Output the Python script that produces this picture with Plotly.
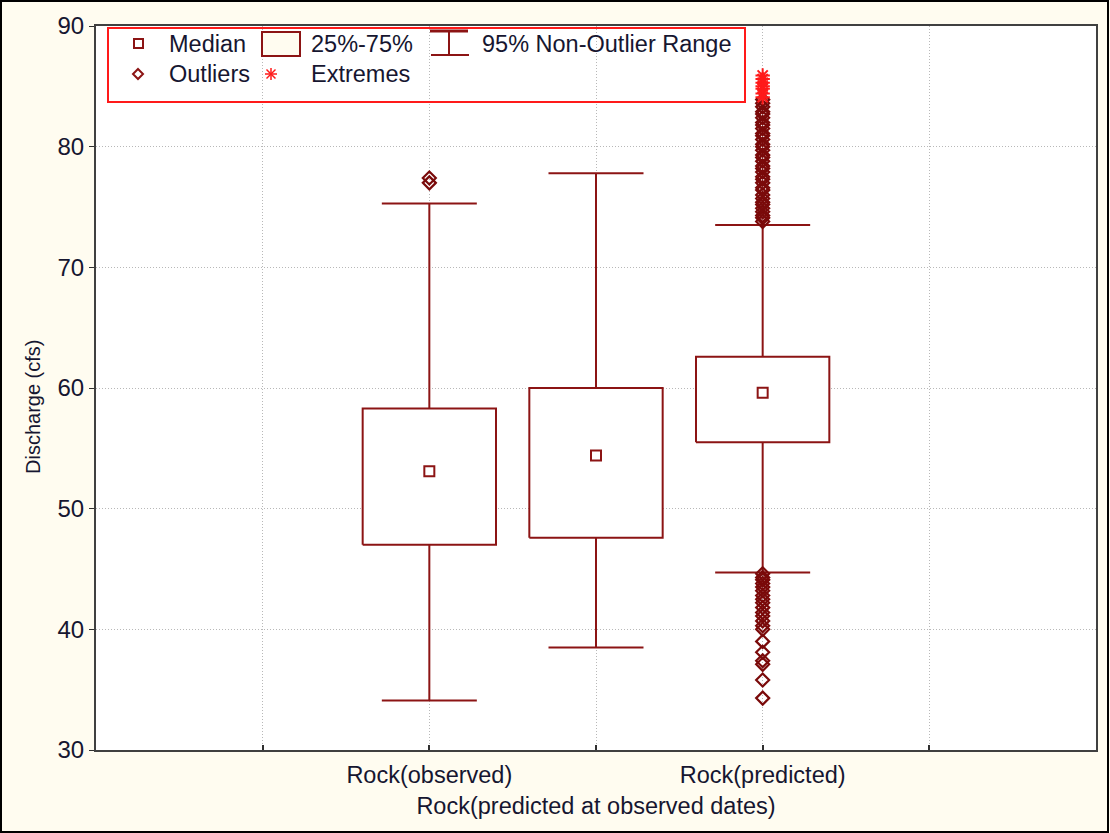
import plotly.graph_objects as go

# ---- data -------------------------------------------------------------
positions = [2, 3, 4]
series_names = ["Rock(observed)", "Rock(predicted at observed dates)", "Rock(predicted)"]
medians = [53.1, 54.4, 59.6]
q1 = [47.0, 47.6, 55.5]
q3 = [58.3, 60.0, 62.6]
whisker_low = [34.1, 38.5, 44.7]
whisker_high = [75.3, 77.8, 73.5]

outliers_observed = [77.0, 77.4]
outliers_predicted = [
    73.8, 74.1, 74.3, 74.6, 74.9, 75.2, 75.4, 75.7, 76.0, 76.4, 76.6, 77.0,
    77.3, 77.5, 77.9, 78.2, 78.4, 78.8, 79.1, 79.3, 79.7, 80.0, 80.2, 80.6,
    80.9, 81.1, 81.5, 81.8, 82.0, 82.4, 82.7, 82.9, 83.3, 83.6, 83.9,
    44.6, 44.3, 44.1, 43.8, 43.5, 43.2, 42.8, 42.5, 42.2, 41.8, 41.4,
    41.1, 40.7, 40.3, 40.0, 39.0, 38.1, 37.4, 37.1, 35.8, 34.3,
]
extremes_predicted = [84.1, 84.4, 84.8, 85.0, 85.3, 85.6, 85.9]

tick_positions = [1, 2, 3, 4, 5]
tick_text = ["", "Rock(observed)", "<br>Rock(predicted at observed dates)", "Rock(predicted)", ""]
y_ticks = [30, 40, 50, 60, 70, 80, 90]

# ---- style ------------------------------------------------------------
MAROON = "#8c1414"
RED = "#ff1a1a"
TEXT = "#161630"
FONT = "Liberation Sans, Arial, sans-serif"
LABEL_SIZE = 23.5
BOX_HALF = 0.4
CAP_HALF = 0.285
GRID_DASH = "1px,2px"

W, H = 1110, 833
L, R, T, B = 96, 14, 26, 83


def px(x):
    return (x - L) / (W - L - R)


def py(y):
    return (H - B - y) / (H - T - B)


fig = go.Figure()

# boxes (25%-75%)
bx, by = [], []
for c, lo, hi in zip(positions, q1, q3):
    bx += [c - BOX_HALF, c + BOX_HALF, c + BOX_HALF, c - BOX_HALF, c - BOX_HALF, None]
    by += [lo, lo, hi, hi, lo, None]
fig.add_trace(go.Scatter(x=bx, y=by, mode="lines", fill="toself", fillcolor="white",
                         line=dict(color=MAROON, width=2), hoverinfo="skip"))

# whiskers (95% non-outlier range)
wx, wy = [], []
for c, lo, hi, wl, wh in zip(positions, q1, q3, whisker_low, whisker_high):
    wx += [c, c, None, c - CAP_HALF, c + CAP_HALF, None,
           c, c, None, c - CAP_HALF, c + CAP_HALF, None]
    wy += [hi, wh, None, wh, wh, None,
           lo, wl, None, wl, wl, None]
fig.add_trace(go.Scatter(x=wx, y=wy, mode="lines",
                         line=dict(color=MAROON, width=2), hoverinfo="skip"))

# medians
fig.add_trace(go.Scatter(x=positions, y=medians, mode="markers",
                         marker=dict(symbol="square-open", size=10, color=MAROON,
                                     line=dict(width=2, color=MAROON))))

# outliers
outlier_marker = dict(symbol="diamond-open", size=10, color="#7a0a0a",
                      line=dict(width=2.2, color="#7a0a0a"))
fig.add_trace(go.Scatter(x=[positions[0]] * len(outliers_observed), y=outliers_observed,
                         mode="markers", marker=outlier_marker))
fig.add_trace(go.Scatter(x=[positions[2]] * len(outliers_predicted), y=outliers_predicted,
                         mode="markers", marker=outlier_marker))

# extremes
fig.add_trace(go.Scatter(x=[positions[2]] * len(extremes_predicted), y=extremes_predicted,
                         mode="markers",
                         marker=dict(symbol="asterisk-open", size=12, color=RED,
                                     line=dict(width=2, color=RED))))

# ---- legend box drawn by hand -----------------------------------------
shapes = []
ann = []


def line(x0, y0, x1, y1, color, width=2):
    shapes.append(dict(type="line", xref="paper", yref="paper",
                       x0=px(x0), y0=py(y0), x1=px(x1), y1=py(y1),
                       line=dict(color=color, width=width)))


def label(x, y, text):
    ann.append(dict(x=px(x), y=py(y), xref="paper", yref="paper", text=text,
                    showarrow=False, xanchor="left", yanchor="middle",
                    font=dict(family=FONT, size=LABEL_SIZE, color=TEXT)))


shapes.append(dict(type="rect", xref="paper", yref="paper",
                   x0=px(108), y0=py(102), x1=px(745), y1=py(28),
                   line=dict(color=RED, width=2), fillcolor="rgba(0,0,0,0)"))
# median symbol
shapes.append(dict(type="rect", xref="paper", yref="paper",
                   x0=px(134), y0=py(48), x1=px(143), y1=py(39),
                   line=dict(color=MAROON, width=2)))
label(167, 44, "Median")
# box symbol
shapes.append(dict(type="rect", xref="paper", yref="paper",
                   x0=px(262), y0=py(56), x1=px(300), y1=py(32),
                   line=dict(color=MAROON, width=2), fillcolor="#fffcf0"))
label(309, 44, "25%-75%")
# whisker symbol
line(430, 31, 468, 31, MAROON, 3)
line(449, 31, 449, 55, MAROON, 2)
line(431, 55, 469, 55, MAROON, 2)
label(480, 44, "95% Non-Outlier Range")
# outlier symbol
shapes.append(dict(type="path", xref="paper", yref="paper",
                   path=f"M {px(138)},{py(69)} L {px(143)},{py(74)} L {px(138)},{py(79)} L {px(133)},{py(74)} Z",
                   line=dict(color=MAROON, width=2)))
label(167, 74, "Outliers")
# extreme symbol
line(271, 68, 271, 80, RED, 1.5)
line(265, 74, 277, 74, RED, 1.5)
line(266.5, 69.5, 275.5, 78.5, RED, 1.5)
line(266.5, 78.5, 275.5, 69.5, RED, 1.5)
label(309, 74, "Extremes")

# outer frame of the graph window
shapes.append(dict(type="rect", xref="paper", yref="paper",
                   x0=px(1), y0=py(832), x1=px(1108), y1=py(1),
                   line=dict(color="black", width=2), layer="above"))

# y-axis title
ann.append(dict(x=px(33), y=py(407), xref="paper", yref="paper",
                text="Discharge (cfs)", showarrow=False, textangle=-90,
                xanchor="center", yanchor="middle",
                font=dict(family=FONT, size=20, color=TEXT)))

fig.update_layout(
    width=W, height=H,
    margin=dict(l=L, r=R, t=T, b=B, pad=0, autoexpand=False),
    paper_bgcolor="#fffcf0",
    plot_bgcolor="white",
    showlegend=False,
    shapes=shapes,
    annotations=ann,
    font=dict(family=FONT, size=LABEL_SIZE, color=TEXT),
)
fig.update_xaxes(
    range=[0, 6], tickmode="array", tickvals=tick_positions, ticktext=tick_text,
    tickangle=0, automargin=False, ticklabelstandoff=3,
    showgrid=True, gridcolor="#b8b8b8", griddash=GRID_DASH, gridwidth=1,
    ticks="inside", ticklen=5, tickwidth=2, tickcolor="#303030",
    showline=True, mirror=True, linecolor="#404040", linewidth=2, zeroline=False,
    tickfont=dict(family=FONT, size=LABEL_SIZE, color=TEXT),
)
fig.update_yaxes(
    range=[30, 90], tickmode="array", tickvals=y_ticks, automargin=False,
    showgrid=True, gridcolor="#b8b8b8", griddash=GRID_DASH, gridwidth=1,
    ticks="outside", ticklen=5, tickwidth=1, tickcolor="#303030",
    showline=True, mirror=True, linecolor="#404040", linewidth=2, zeroline=False,
    tickfont=dict(family=FONT, size=24, color=TEXT),
)

fig.write_html("out.html")
